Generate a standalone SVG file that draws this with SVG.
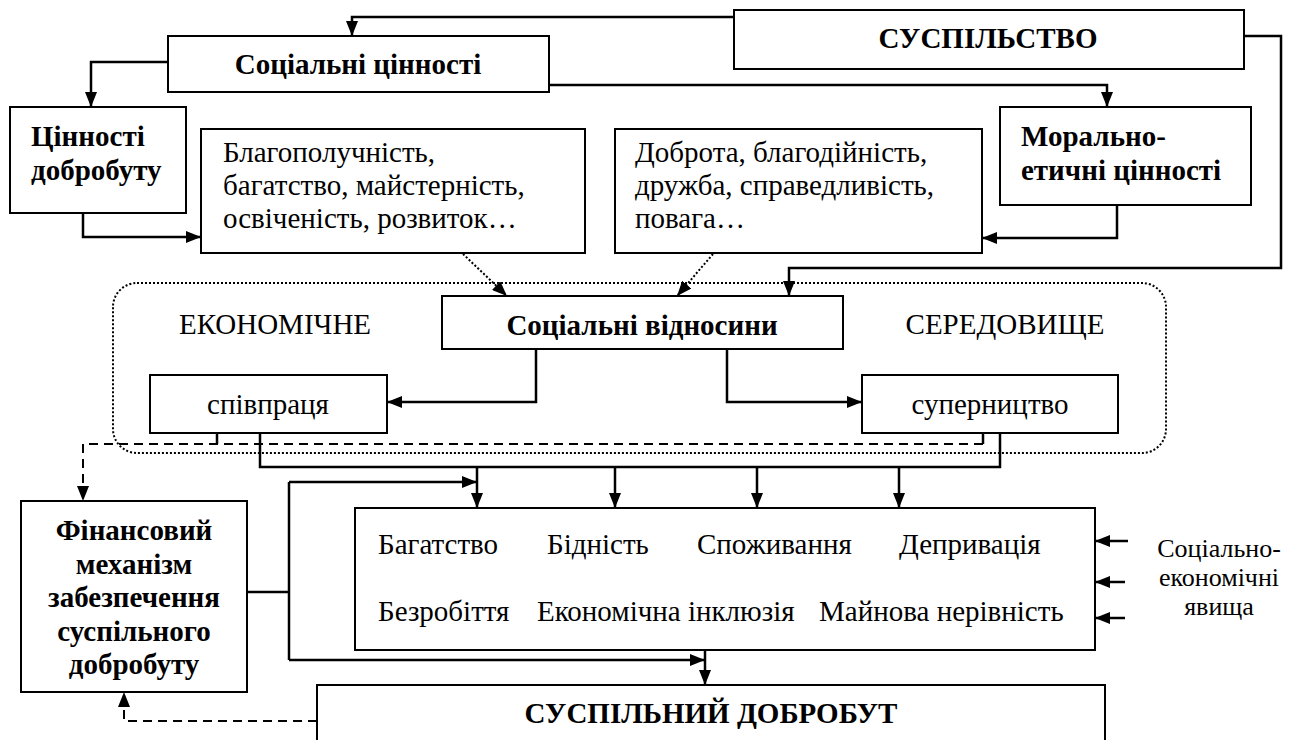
<svg xmlns="http://www.w3.org/2000/svg" width="1295" height="740" viewBox="0 0 1295 740">
<defs>
<marker id="ah" markerUnits="userSpaceOnUse" markerWidth="15" markerHeight="12" refX="15" refY="6" orient="auto">
<path d="M0,0 L15,6 L0,12 z" fill="#000"/>
</marker>
<style>
.box{fill:#fff;stroke:#000;stroke-width:2}
.t{font-family:'Liberation Serif','Times New Roman',serif;font-size:29px;fill:#000}
.s{font-size:26px}
.b{font-weight:bold}
.c{text-anchor:middle}
.ln{fill:none;stroke:#000;stroke-width:2.5}
.ar{marker-end:url(#ah)}
.dash{fill:none;stroke:#000;stroke-width:2;stroke-dasharray:9,6}
.dot{fill:none;stroke:#000;stroke-width:2;stroke-dasharray:2,2}
</style>
</defs>
<rect width="1295" height="740" fill="#fff"/>
<g id="environment">
<rect class="dot" x="113" y="283" width="1053" height="170" rx="24"/>
<text class="t c" x="275" y="334">ЕКОНОМІЧНЕ</text>
<text class="t c" x="1005" y="334">СЕРЕДОВИЩЕ</text>
</g>
<g id="connectors">
<path class="ln ar" d="M734,17 H352 V36"/>
<path class="ln ar" d="M168,62 H91 V107"/>
<path class="ln ar" d="M549,85 H1107 V107"/>
<path class="ln ar" d="M83,213 V237 H201"/>
<path class="ln ar" d="M1117,205 V238 H982"/>
<path class="ln ar" d="M1244,36 H1281 V268 H789 V296"/>
<path class="dot ar" d="M463,254 L507,296"/>
<path class="dot ar" d="M713,254 L677,296"/>
<path class="ln ar" d="M536,349 V402 H387"/>
<path class="ln ar" d="M727,349 V402 H862"/>
<path class="ln" d="M260,433 V467 H1000 V433"/>
<path class="ln ar" d="M477,467 V508"/>
<path class="ln ar" d="M615,467 V508"/>
<path class="ln ar" d="M757,467 V508"/>
<path class="ln ar" d="M899,467 V508"/>
<path class="ln" d="M217,433 V444"/>
<path class="ln" d="M983,433 V444"/>
<path class="dash ar" d="M983,444 H83 V501"/>
<path class="ln" d="M247,592 H289"/>
<path class="ln" d="M289,482 V660"/>
<path class="ln ar" d="M289,482 H477"/>
<path class="ln ar" d="M289,660 H705"/>
<path class="ln ar" d="M705,650 V685"/>
<path class="dash ar" d="M317,721 H124 V692"/>
<path class="ln ar" d="M1128,541 H1095"/>
<path class="ln ar" d="M1125,582 H1095"/>
<path class="ln ar" d="M1125,618 H1095"/>
</g>
<g id="suspilstvo">
<rect class="box" x="734" y="10" width="510" height="59"/>
<text class="t b c" x="988" y="48">СУСПІЛЬСТВО</text>
</g>
<g id="sotsialni-tsinnosti">
<rect class="box" x="168" y="36" width="381" height="56"/>
<text class="t b c" x="358" y="74">Соціальні цінності</text>
</g>
<g id="tsinnosti-dobrobutu">
<rect class="box" x="10" y="107" width="176" height="106"/>
<text class="t b" x="31" y="146">Цінності</text>
<text class="t b" x="31" y="180">добробуту</text>
</g>
<g id="moralno-etychni">
<rect class="box" x="1000" y="107" width="251" height="98"/>
<text class="t b" x="1021" y="146">Морально-</text>
<text class="t b" x="1021" y="180">етичні цінності</text>
</g>
<g id="blagopoluchnist">
<rect class="box" x="201" y="129" width="384" height="124"/>
<text class="t" x="223" y="162">Благополучність,</text>
<text class="t" x="223" y="195">багатство, майстерність,</text>
<text class="t" x="223" y="228">освіченість, розвиток…</text>
</g>
<g id="dobrota">
<rect class="box" x="615" y="129" width="367" height="124"/>
<text class="t" x="635" y="162">Доброта, благодійність,</text>
<text class="t" x="635" y="195">дружба, справедливість,</text>
<text class="t" x="635" y="228">повага…</text>
</g>
<g id="sotsialni-vidnosyny">
<rect class="box" x="442" y="296" width="401" height="53"/>
<text class="t b c" x="642" y="335">Соціальні відносини</text>
</g>
<g id="spivpratsia">
<rect class="box" x="150" y="375" width="237" height="58"/>
<text class="t c" x="268" y="414">співпраця</text>
</g>
<g id="supernytstvo">
<rect class="box" x="862" y="375" width="256" height="58"/>
<text class="t c" x="990" y="414">суперництво</text>
</g>
<g id="yavyshcha">
<rect class="box" x="355" y="508" width="740" height="142"/>
<text class="t" x="378" y="554">Багатство</text>
<text class="t" x="547" y="554">Бідність</text>
<text class="t" x="697" y="554">Споживання</text>
<text class="t" x="899" y="554">Депривація</text>
<text class="t" x="378" y="621">Безробіття</text>
<text class="t" x="537" y="621">Економічна інклюзія</text>
<text class="t" x="819" y="621">Майнова нерівність</text>
</g>
<g id="sotsialno-ekonomichni">
<text class="t s c" x="1219" y="557">Соціально-</text>
<text class="t s c" x="1219" y="586">економічні</text>
<text class="t s c" x="1219" y="615">явища</text>
</g>
<g id="finansovyi-mekhanizm">
<rect class="box" x="21" y="501" width="226" height="191"/>
<text class="t b c" x="134" y="540">Фінансовий</text>
<text class="t b c" x="134" y="574">механізм</text>
<text class="t b c" x="134" y="607">забезпечення</text>
<text class="t b c" x="134" y="641">суспільного</text>
<text class="t b c" x="134" y="674">добробуту</text>
</g>
<g id="suspilnyi-dobrobut">
<rect class="box" x="317" y="685" width="788" height="70"/>
<text class="t b c" x="711" y="723">СУСПІЛЬНИЙ ДОБРОБУТ</text>
</g>
</svg>
